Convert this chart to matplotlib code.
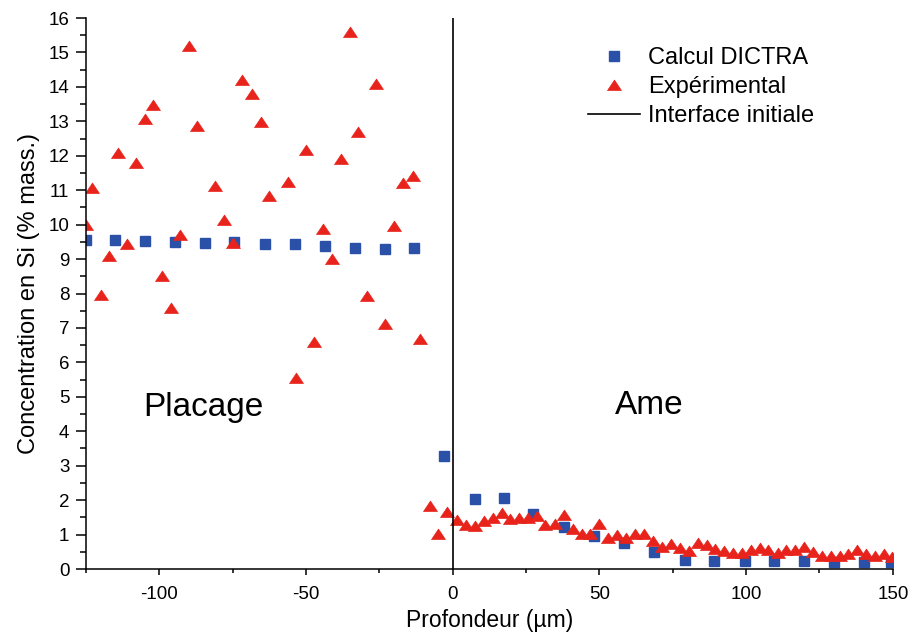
import matplotlib
matplotlib.use("Agg")
import matplotlib.pyplot as plt
from matplotlib.ticker import MultipleLocator

plt.rcParams["font.family"] = ["Liberation Sans", "DejaVu Sans"]
plt.rcParams["axes.unicode_minus"] = False

# Calcul DICTRA (carrés bleus)
x_dictra = [-125, -115, -105, -94.6, -84.6, -74.4, -64, -53.7, -43.5, -33.3, -23.1, -13.2,
            -3, 7.5, 17.5, 27.5, 38, 48, 58.5, 68.5, 79, 89, 99.5, 109.5, 119.7, 130, 140, 149.5]
y_dictra = [9.55, 9.55, 9.52, 9.5, 9.47, 9.5, 9.45, 9.43, 9.38, 9.33, 9.28, 9.33,
            3.28, 2.04, 2.07, 1.6, 1.22, 0.96, 0.76, 0.48, 0.25, 0.24, 0.23, 0.23, 0.23, 0.2, 0.2, 0.2]

# Expérimental (triangles rouges)
x_exp = [-125, -123, -120, -117, -114, -111, -108, -105, -102, -99, -96, -93, -90, -87,
         -81, -78, -75, -72, -68.5, -65.5, -62.5, -56, -53.4, -50, -47.3, -44.3, -41.2,
         -38.2, -35, -32.2, -29.1, -26.2, -23, -20, -17, -13.7, -11, -7.8, -4.9, -1.9,
         1.5, 4.4, 7.5, 10.5, 13.7, 16.7, 19.6, 22.6, 25.6, 28.7, 31.6, 34.8, 37.8, 40.9,
         43.9, 46.8, 50, 53, 56, 59.1, 62.1, 65.1, 68.1, 71.2, 74.4, 77.5, 80.4, 83.5,
         86.5, 89.5, 92.5, 95.6, 98.5, 101.6, 104.7, 107.6, 110.7, 113.7, 116.7, 119.7,
         122.8, 125.7, 128.8, 131.9, 134.8, 137.9, 141, 143.9, 147, 149.8]
y_exp = [10.0, 11.06, 7.97, 9.08, 12.08, 9.43, 11.79, 13.08, 13.47, 8.52, 7.58, 9.71, 15.19, 12.86,
         11.13, 10.14, 9.46, 14.2, 13.78, 12.98, 10.84, 11.23, 5.54, 12.16, 6.58, 9.87, 9.0,
         11.9, 15.6, 12.68, 7.94, 14.08, 7.12, 9.95, 11.21, 11.41, 6.68, 1.82, 1.03, 1.65,
         1.42, 1.28, 1.24, 1.40, 1.49, 1.64, 1.45, 1.47, 1.49, 1.54, 1.27, 1.32, 1.56, 1.15,
         1.03, 1.03, 1.30, 0.91, 0.99, 0.89, 1.03, 1.03, 0.80, 0.64, 0.74, 0.60, 0.52, 0.77,
         0.70, 0.57, 0.52, 0.47, 0.47, 0.54, 0.60, 0.55, 0.47, 0.54, 0.54, 0.64,
         0.50, 0.38, 0.38, 0.38, 0.43, 0.54, 0.43, 0.38, 0.43, 0.35]

rouge = "#e8231b"
bleu = "#2b50a8"
# triangle un peu plus large que haut, comme dans Origin
tri = [(-1, -0.72), (1, -0.72), (0, 0.78), (-1, -0.72)]

fig = plt.figure(figsize=(9.12, 6.39), dpi=100)
ax = fig.add_axes([0.0943, 0.1095, 0.8847, 0.8623])

ax.plot(x_dictra, y_dictra, ls="none", marker="s", ms=6.5, color=bleu, mec=bleu,
        label="Calcul DICTRA")
ax.plot(x_exp, y_exp, ls="none", marker=tri, ms=10, color=rouge, mec=rouge, mew=0.5,
        label="Expérimental")
ax.axvline(0, color="black", lw=1.2, label="Interface initiale")

ax.set_xlim(-125, 150)
ax.set_ylim(0, 16)
ax.xaxis.set_major_locator(MultipleLocator(50))
ax.xaxis.set_minor_locator(MultipleLocator(25))
ax.yaxis.set_major_locator(MultipleLocator(1))
ax.yaxis.set_minor_locator(MultipleLocator(0.5))

for s in ["top", "right"]:
    ax.spines[s].set_visible(False)
for s in ["left", "bottom"]:
    ax.spines[s].set_linewidth(1.1)

ax.tick_params(axis="y", which="major", direction="out", length=7, width=1.1, labelsize=13.5, pad=5)
ax.tick_params(axis="y", which="minor", direction="out", length=4.3, width=1.1)
ax.tick_params(axis="x", which="major", direction="out", length=4.5, width=1.1, labelsize=13.5, pad=8)
ax.tick_params(axis="x", which="minor", direction="out", length=3, width=1.1)

ax.set_xlabel("Profondeur (µm)", fontsize=16.5, labelpad=4)
ax.set_ylabel("Concentration en Si (% mass.)", fontsize=17, labelpad=6)

ax.text(-85, 4.7, "Placage", fontsize=24, ha="center", va="center")
ax.text(67, 4.75, "Ame", fontsize=24, ha="center", va="center")

ax.legend(loc="upper left", bbox_to_anchor=(0.645, 0.926), bbox_transform=fig.transFigure,
          frameon=False, fontsize=17, handlelength=2.2, handletextpad=0.35,
          labelspacing=0.3, borderpad=0, borderaxespad=0)

fig.savefig("out.png", dpi=100)
